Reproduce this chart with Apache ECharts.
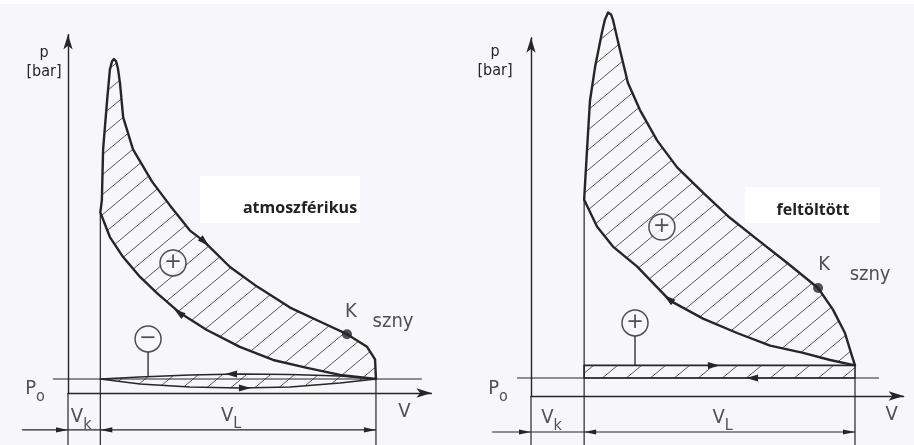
<!DOCTYPE html>
<html><head><meta charset="utf-8">
<script src="https://cdn.jsdelivr.net/npm/echarts@6/dist/echarts.min.js"></script>
<style>html,body{margin:0;padding:0;background:#f7f7fb}#c{width:914px;height:445px}</style>
</head><body><div id="c"></div><script>
// ---------- data (V in % of cylinder volume, p in bar) ----------
const P0 = 1.0;
// atmospheric (left)
const atmVk = 10.5, atmVL = 89.5;
const atmExpansion = [[10.5,12.9],[11.0,13.8],[11.4,17.4],[12.7,20.9],[13.6,23.1],[14.3,23.7],[14.9,23.85],[15.6,23.7],[16.2,23.2],[16.9,22.1],[17.9,19.7],[21.1,17.4],[27.3,15.1],[33.1,13.4],[39.6,11.6],[43.8,10.9],[52.6,9.0],[61.4,7.6],[72.1,6.1],[82.8,5.0],[90.6,4.2],[97.1,3.3],[99.7,2.4],[100,1.0]];
const atmCompression = [[100,1.0],[88.3,1.29],[77.6,1.79],[66.6,2.36],[55.8,3.29],[45.1,4.5],[36.4,5.71],[28.9,7.14],[23.4,8.29],[17.9,9.71],[13.6,11.14],[10.5,12.9]];
const atmExhaust = [[100,1.0],[88.3,1.21],[72.1,1.32],[55.8,1.36],[39.6,1.29],[23.4,1.14],[10.5,1.0]];
const atmIntake = [[10.5,1.0],[23.4,0.64],[39.6,0.43],[55.8,0.36],[72.1,0.43],[88.3,0.71],[100,1.0]];
const atmK = [90.6,4.2];
const atmArrows = [[41.9,11.29,45.8,10.5],[38.3,5.36,34.4,6.0],[54.9,1.36,51.0,1.36],[55.5,0.36,59.4,0.36]];
const atmSignPos = [[34.1,9.29],[26.0,3.86]];
const atmSignText = ['+','\u2212'];
const atmStems = [[26.0,3.86,1.17]];
const atmLabel = 'atmoszférikus';
// supercharged (right)
const chgVk = 16.4, chgVL = 83.6;
const chgExpansion = [[16.4,10.9],[17.3,13.7],[18.2,16.4],[19.8,18.3],[21.9,20.2],[22.8,20.9],[23.8,21.3],[24.7,21.2],[25.3,20.9],[27.5,19.2],[29.9,17.4],[33.6,15.9],[38.9,14.2],[45.1,12.7],[53.1,11.3],[61.4,9.9],[69.8,8.7],[79.0,7.4],[88.6,6.0],[93.2,4.8],[96.9,3.5],[99.1,2.2],[100,1.7]];
const chgCompression = [[100,1.7],[92.3,2.0],[84.0,2.4],[73.8,2.8],[63.6,3.5],[53.1,4.3],[42.9,5.3],[32.7,7.2],[25.3,8.3],[20.4,9.4],[16.4,10.9]];
const chgIntake = [[16.4,1.7],[100,1.7]];
const chgExhaust = [[100,1.0],[16.4,1.0]];
const chgK = [88.6,6.0];
const chgArrows = [[44.8,5.06,41.0,5.61],[54.6,1.7,58.3,1.7],[70.1,1.0,66.4,1.0]];
const chgSignPos = [[40.4,9.39],[32.1,4.06]];
const chgSignText = ['+','+'];
const chgStems = [[32.1,4.06,1.7]];
const chgLabel = 'feltöltött';

// ---------- style / layout ----------
const BG = '#f7f7fb', INK = '#262626';
const FONT = "'Liberation Sans Narrow','DejaVu Sans Condensed','Liberation Sans',sans-serif";
const LAY = [
  {grid:{left:68, top:34.6, width:363.4, height:358.4}, xMax:118, yMax:25.6, bottomP:-3.71, dimP:-2.64, dimFrom:-14.9, p0From:-4.9, p0To:114.9,
   pGap:-27.4, pPad:48, vOff:[-27,19], vkOff:[-3,27], vlOff:[-7,26], poOff:[-33,13], kOff:[4,-22], sOff:[46,-12]},
  {grid:{left:531, top:37.8, width:372.6, height:358.2}, xMax:115, yMax:19.9, bottomP:-2.72, dimP:-2.0, dimFrom:-12, p0From:-4.3, p0To:107.4,
   pGap:-24, pPad:72, vOff:[-12,19], vkOff:[-6,25], vlOff:[3,25], poOff:[-33,14], kOff:[6,-23], sOff:[52,-13]}
];

const hatchCanvas = (function(){
  const c = document.createElement('canvas'); c.width = 24; c.height = 20;
  const g = c.getContext('2d'); g.strokeStyle = '#555'; g.lineWidth = 1;
  g.beginPath(); g.moveTo(-4, 20 + 4*20/24); g.lineTo(28, 20 - 28*20/24); g.stroke();
  return c;
})();
const hatchFill = {image: hatchCanvas, repeat: 'repeat'};

function polygon(gi, pts, lw, z){
  return {type:'custom', coordinateSystem:'cartesian2d', xAxisIndex:gi, yAxisIndex:gi, silent:true, clip:false, z:z,
    data:[pts[0]],
    renderItem:function(params, api){
      return {type:'polygon', shape:{points: pts.map(function(p){return api.coord(p);})},
        style:{fill:hatchFill, stroke:INK, lineWidth:lw, lineJoin:'round'}};
    }};
}
function segments(gi, segs, lw, z){
  return {type:'custom', coordinateSystem:'cartesian2d', xAxisIndex:gi, yAxisIndex:gi, silent:true, clip:false, z:z,
    data:segs, encode:{x:[0,2], y:[1,3]},
    renderItem:function(params, api){
      const a = api.coord([api.value(0), api.value(1)]), b = api.coord([api.value(2), api.value(3)]);
      return {type:'line', shape:{x1:a[0], y1:a[1], x2:b[0], y2:b[1]}, style:{stroke:INK, lineWidth:lw}};
    }};
}
function arrows(gi, list, L, W, z){
  return {type:'custom', coordinateSystem:'cartesian2d', xAxisIndex:gi, yAxisIndex:gi, silent:true, clip:false, z:z,
    data:list, encode:{x:[0,2], y:[1,3]},
    renderItem:function(params, api){
      const a = api.coord([api.value(0), api.value(1)]), b = api.coord([api.value(2), api.value(3)]);
      const dx = b[0]-a[0], dy = b[1]-a[1], len = Math.hypot(dx,dy) || 1, ux = dx/len, uy = dy/len;
      const bx = b[0]-ux*L, by = b[1]-uy*L;
      return {type:'polygon', shape:{points:[[b[0],b[1]],[bx-uy*W, by+ux*W],[bx+uy*W, by-ux*W]]}, style:{fill:INK}};
    }};
}
function stems(gi, list, r, z){
  return {type:'custom', coordinateSystem:'cartesian2d', xAxisIndex:gi, yAxisIndex:gi, silent:true, clip:false, z:z,
    data:list,
    renderItem:function(params, api){
      const a = api.coord([api.value(0), api.value(1)]), b = api.coord([api.value(0), api.value(2)]);
      return {type:'line', shape:{x1:a[0], y1:a[1]+r, x2:b[0], y2:b[1]}, style:{stroke:INK, lineWidth:1.3}};
    }};
}
function signs(gi, pos, txt){
  return {type:'scatter', xAxisIndex:gi, yAxisIndex:gi, silent:true, z:6, symbol:'circle', symbolSize:26,
    itemStyle:{color:BG, borderColor:INK, borderWidth:1.5},
    label:{show:true, position:'inside', fontFamily:'DejaVu Sans', fontSize:21, color:INK,
      formatter:function(p){return txt[p.dataIndex];}},
    data:pos};
}
const sub = {
  v:{fontFamily:FONT, fontSize:20, color:INK, verticalAlign:'top', padding:[0,0,6,0]},
  s:{fontFamily:FONT, fontSize:16, color:INK, verticalAlign:'bottom'}
};
function texts(gi, Vk, VL, K){
  const L = LAY[gi];
  const plain = {fontFamily:FONT, fontSize:20, color:INK};
  return {type:'scatter', xAxisIndex:gi, yAxisIndex:gi, silent:true, z:7, symbolSize:0,
    label:{show:true, position:'inside', rich:sub},
    data:[
      {value:[Vk/2, 0], label:{formatter:'{v|V}{s|k}', offset:L.vkOff}},
      {value:[Vk + VL/2, 0], label:{formatter:'{v|V}{s|L}', offset:L.vlOff}},
      {value:[0, P0], label:{formatter:'{v|P}{s|o}', offset:L.poOff}},
      {value:[L.xMax, 0], label:Object.assign({formatter:'V', offset:L.vOff}, plain)},
      {value:K, label:Object.assign({formatter:'K', offset:L.kOff}, plain)},
      {value:K, label:Object.assign({formatter:'szny', offset:L.sOff}, plain)}
    ]};
}
function kDot(gi, K){
  return {type:'scatter', xAxisIndex:gi, yAxisIndex:gi, silent:true, z:6, symbol:'circle', symbolSize:10,
    itemStyle:{color:INK}, data:[K]};
}
function frame(gi, Vk, VL, topLeftP){
  const L = LAY[gi], end = Vk + VL;
  return segments(gi, [
    [L.p0From, P0, L.p0To, P0],
    [0, 0, 0, L.bottomP],
    [Vk, topLeftP, Vk, L.bottomP],
    [end, P0, end, L.bottomP],
    [L.dimFrom, L.dimP, end, L.dimP]
  ], 1.2, 3);
}
function dimArrows(gi, Vk, VL){
  const L = LAY[gi], end = Vk + VL, mid = Vk + VL/2;
  return arrows(gi, [[L.dimFrom, L.dimP, 0, L.dimP],[mid, L.dimP, Vk, L.dimP],[mid, L.dimP, end, L.dimP]], 12, 2.6, 5);
}

const xAxis = LAY.map(function(L, i){
  return {gridIndex:i, type:'value', min:0, max:L.xMax,
    axisLine:{show:true, onZero:false, symbol:['none','arrow'], symbolSize:[7,15], lineStyle:{color:INK, width:1.4}},
    axisTick:{show:false}, axisLabel:{show:false}, splitLine:{show:false}};
});
const yAxis = LAY.map(function(L, i){
  return {gridIndex:i, type:'value', min:0, max:L.yMax,
    axisLine:{show:true, onZero:false, symbol:['none','arrow'], symbolSize:[7,15], lineStyle:{color:INK, width:1.4}},
    axisTick:{show:false}, axisLabel:{show:false}, splitLine:{show:false},
    name:'p\n[bar]', nameLocation:'end', nameGap:L.pGap,
    nameTextStyle:{fontFamily:FONT, fontSize:16, lineHeight:19, color:INK, align:'center', verticalAlign:'middle', padding:[0,L.pPad,0,0]}};
});

const series = [
  frame(0, atmVk, atmVL, atmExpansion[0][1]),
  polygon(0, atmExpansion.concat(atmCompression.slice(1,-1)), 2.4, 2),
  polygon(0, atmExhaust.concat(atmIntake.slice(1,-1)), 1.6, 2),
  arrows(0, atmArrows, 12, 3.5, 5),
  dimArrows(0, atmVk, atmVL),
  stems(0, atmStems, 13, 4),
  signs(0, atmSignPos, atmSignText),
  kDot(0, atmK),
  texts(0, atmVk, atmVL, atmK),

  frame(1, chgVk, chgVL, chgExpansion[0][1]),
  polygon(1, chgExpansion.concat(chgCompression.slice(1,-1)), 2.4, 2),
  polygon(1, chgIntake.concat(chgExhaust), 1.6, 2),
  arrows(1, chgArrows, 12, 3.5, 5),
  dimArrows(1, chgVk, chgVL),
  stems(1, chgStems, 13, 4),
  signs(1, chgSignPos, chgSignText),
  kDot(1, chgK),
  texts(1, chgVk, chgVL, chgK)
];

const box = function(x, y, w, h, text, tx, ty){
  return [
    {type:'rect', shape:{x:x, y:y, width:w, height:h}, style:{fill:'#ffffff'}, z:10},
    {type:'text', x:tx, y:ty, style:{text:text, font:"bold 16px 'Open Sans', 'Liberation Sans', sans-serif", fill:'#222', textAlign:'center', textVerticalAlign:'middle'}, z:11}
  ];
};

const chart = echarts.init(document.getElementById('c'), null, {renderer:'canvas'});
chart.setOption({
  backgroundColor: BG,
  animation: false,
  grid: LAY.map(function(L){return L.grid;}),
  xAxis: xAxis, yAxis: yAxis,
  graphic: [{type:'rect', shape:{x:0, y:0, width:914, height:4}, style:{fill:'#ffffff'}, z:1}]
    .concat(box(200, 176, 160, 47, atmLabel, 300, 208))
    .concat(box(745, 187, 135, 36, chgLabel, 813, 210)),
  series: series
});
</script></body></html>
